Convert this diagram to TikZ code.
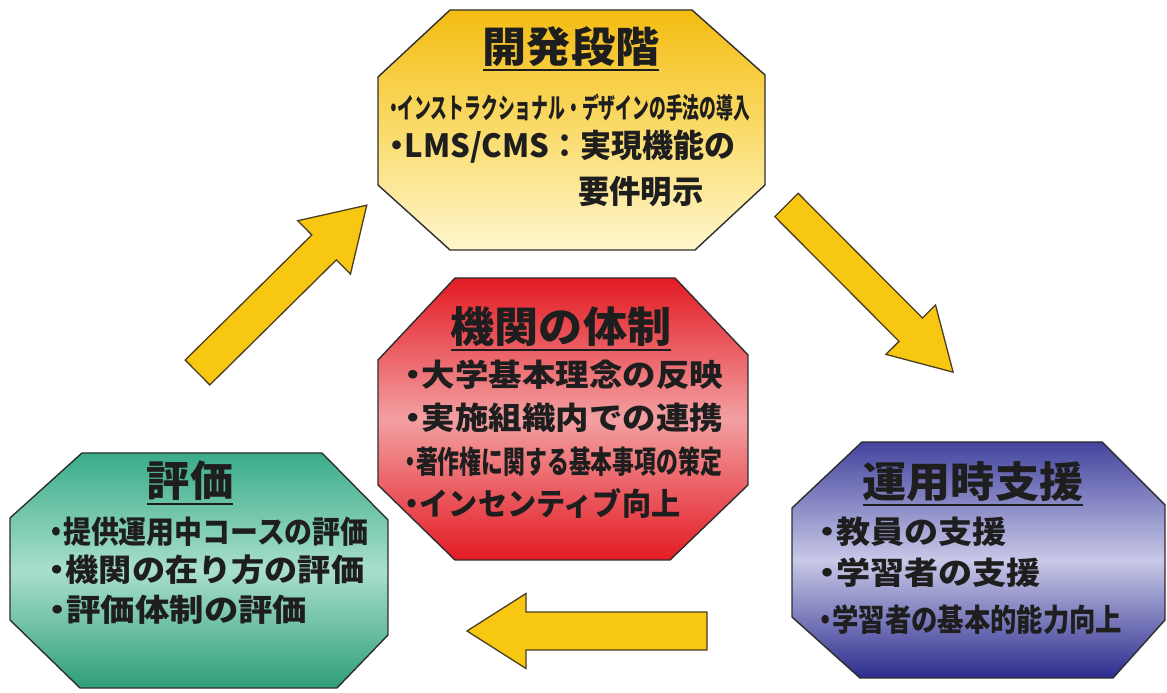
\documentclass[tikz,border=0pt]{standalone}
\usepackage{fontspec}
\usepackage{graphicx}
\newfontfamily\jp{Noto Sans CJK JP}
\usetikzlibrary{calc}
\definecolor{arrowfill}{HTML}{F8C712}
\definecolor{arrowline}{HTML}{4A3E22}
\definecolor{octline}{HTML}{2E2E2E}
\definecolor{textc}{HTML}{1E1E1E}
\definecolor{ytop}{HTML}{F3BC12}
\definecolor{ymid}{HTML}{FADB6A}
\definecolor{ybot}{HTML}{FFF6CE}
\definecolor{rtop}{HTML}{E31B23}
\definecolor{rmid}{HTML}{F2A0A2}
\definecolor{rbot}{HTML}{E31B23}
\definecolor{gtop}{HTML}{3AAC8A}
\definecolor{gmid}{HTML}{A9DFCC}
\definecolor{gbot}{HTML}{2E9E7A}
\definecolor{btop}{HTML}{44449F}
\definecolor{bmid}{HTML}{C8C8E8}
\definecolor{bbot}{HTML}{2C2C8E}
\newcommand\jl[3]{{\jp\bfseries\fontsize{#1}{#1}\selectfont\scalebox{#2}[1]{#3}}}
\newcommand\bul{\makebox[0.5em][c]{・}}
\newcommand\blockarrow[7]{%
  \begin{scope}[shift={(#1,#2)}, rotate=#3]
    \path[blockarr] (0,-#5/2) -- (#4-#7,-#5/2) -- (#4-#7,-#6/2) -- (#4,0)
      -- (#4-#7,#6/2) -- (#4-#7,#5/2) -- (0,#5/2) -- cycle;
  \end{scope}}
\begin{document}
\begin{tikzpicture}[x=1pt,y=1pt,
  oct/.style={draw=octline, line width=1.4pt, line join=miter},
  blockarr/.style={fill=arrowfill, draw=arrowline, line width=1.3pt, line join=miter},
  ttl/.style={inner sep=0pt, anchor=center, text=textc},
  txt/.style={inner sep=0pt, anchor=west, text=textc},
  uline/.style={line width=2.2pt, draw=textc}]
\useasboundingbox (0,0) rectangle (1167,693);
\fill[white] (0,0) rectangle (1167,693);

% arrows
\blockarrow{197.5}{320.5}{44.66}{238}{35}{75}{60}
\blockarrow{786.5}{488}{-45.1}{236}{33}{70}{60}
\blockarrow{707}{62}{180}{240}{38}{75}{59}

% yellow octagon
\path[oct, top color=ytop, bottom color=ybot, middle color=ymid]
  (450,683) -- (692,683) -- (765,618) -- (765,508) -- (695,443) -- (450,443) -- (378,508) -- (378,616) -- cycle;
% red octagon
\path[oct, top color=rtop, bottom color=rbot, middle color=rmid]
  (455,415) -- (675,415) -- (748,338) -- (748,208) -- (670,133) -- (455,133) -- (378,208) -- (378,333) -- cycle;
% green octagon
\path[oct, top color=gtop, bottom color=gbot, middle color=gmid]
  (82,240) -- (322,240) -- (388,173) -- (388,58) -- (337,5) -- (80,5) -- (10,73) -- (10,175) -- cycle;
% blue octagon
\path[oct, top color=btop, bottom color=bbot, middle color=bmid]
  (862,251) -- (1102,251) -- (1165,188) -- (1165,73) -- (1113,15) -- (860,15) -- (792,76) -- (792,185) -- cycle;

% yellow texts
\node[ttl] (yt) at (571,646) {\jl{42}{1.05}{開発段階}};
\draw[uline] ([yshift=-3]yt.south west) -- ([yshift=-3]yt.south east);
\node[txt] (y1) at (389,585) {\jl{28}{0.6}{\bul インストラクショナル・デザインの手法の導入}};
\node[txt] (y2) at (389,546) {\jl{32}{0.97}{\bul LMS/CMS：実現機能の}};
\node[txt] (y3) at (578,501) {\jl{32}{0.98}{要件明示}};

% red texts
\node[ttl] (rt) at (561,366) {\jl{42}{1.05}{機関の体制}};
\draw[uline] ([yshift=-3]rt.south west) -- ([yshift=-3]rt.south east);
\node[txt] (r1) at (405,318) {\jl{31}{1.08}{\bul 大学基本理念の反映}};
\node[txt] (r2) at (405,275) {\jl{31}{1.08}{\bul 実施組織内での連携}};
\node[txt] (r3) at (405,231) {\jl{31}{0.705}{\bul 著作権に関する基本事項の策定}};
\node[txt] (r4) at (405,190) {\jl{31}{0.94}{\bul インセンティブ向上}};

% green texts
\node[ttl] (gt) at (190,212) {\jl{42}{1.03}{評価}};
\draw[uline] ([yshift=-3]gt.south west) -- ([yshift=-3]gt.south east);
\node[txt] (g1) at (49,161) {\jl{31}{0.9}{\bul 提供運用中コースの評価}};
\node[txt] (g2) at (49,123) {\jl{31}{1.07}{\bul 機関の在り方の評価}};
\node[txt] (g3) at (49,83) {\jl{31}{1.11}{\bul 評価体制の評価}};

% blue texts
\node[ttl] (bt) at (973,211) {\jl{42}{1.05}{運用時支援}};
\draw[uline] ([yshift=-3]bt.south west) -- ([yshift=-3]bt.south east);
\node[txt] (b1) at (819,161) {\jl{31}{1.1}{\bul 教員の支援}};
\node[txt] (b2) at (819,120) {\jl{31}{1.1}{\bul 学習者の支援}};
\node[txt] (b3) at (819,73) {\jl{31}{0.85}{\bul 学習者の基本的能力向上}};
\end{tikzpicture}
\end{document}
